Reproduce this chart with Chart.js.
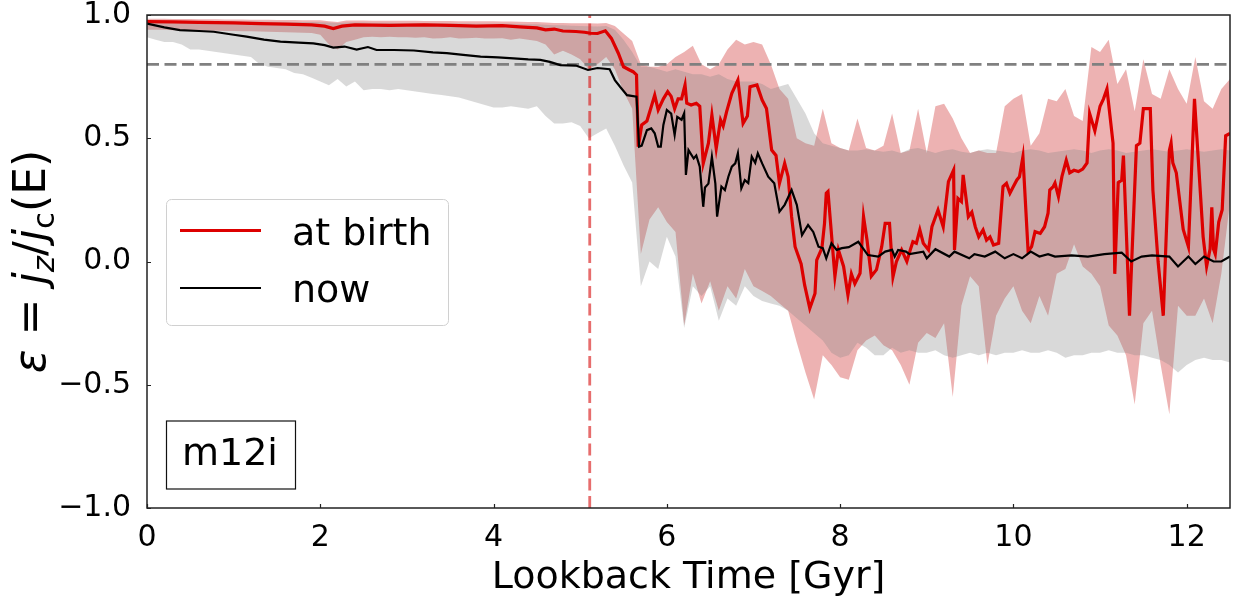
<!DOCTYPE html>
<html>
<head>
  <meta charset="UTF-8">
  <title>Circularity vs lookback time</title>
  <script src="https://cdn.jsdelivr.net/npm/chart.js@4.4.4/dist/chart.umd.min.js"></script>
  <style>
    html, body { margin: 0; padding: 0; background: #fff; }
    #wrap { width: 1234px; height: 598px; }
  </style>
</head>
<body>
<div id="wrap"><canvas id="epsChart"></canvas></div>

<script>
  // ─── axis ranges / ticks ───
  const timeRange = [0, 12.5];
  const epsRange = [-1, 1];
  const xTicks = [0, 2, 4, 6, 8, 10, 12];
  const yTicks = [-1, -0.5, 0, 0.5, 1];
  const diskCut = 0.8;        // thin-disc threshold
  const formationTime = 5.11; // disc onset

  // ─── median circularity at birth ───
  const birthTime = [
    0, 0.3, 0.6, 1.0, 1.3, 1.6, 1.9, 2.05, 2.15, 2.25, 2.4, 2.8, 3.2, 3.5, 3.8, 4.1, 4.3, 4.5, 4.6, 4.7,
    4.8, 4.95, 5.05, 5.12, 5.2, 5.29, 5.36, 5.44, 5.5, 5.57, 5.61, 5.65, 5.67, 5.71, 5.77, 5.82, 5.86, 5.9, 5.96, 6.01,
    6.05, 6.09, 6.13, 6.17, 6.21, 6.23, 6.28, 6.34, 6.38, 6.42, 6.48, 6.52, 6.57, 6.62, 6.65, 6.69, 6.75, 6.82, 6.88, 6.93,
    6.96, 7.04, 7.1, 7.15, 7.21, 7.26, 7.3, 7.36, 7.4, 7.44, 7.48, 7.55, 7.59, 7.65, 7.71, 7.73, 7.79, 7.82, 7.84, 7.86,
    7.89, 7.94, 7.98, 8.04, 8.09, 8.13, 8.17, 8.23, 8.27, 8.31, 8.36, 8.42, 8.48, 8.52, 8.57, 8.61, 8.65, 8.71, 8.77, 8.81,
    8.84, 8.88, 8.92, 8.96, 9.02, 9.06, 9.13, 9.19, 9.25, 9.31, 9.32, 9.36, 9.4, 9.42, 9.48, 9.52, 9.56, 9.6, 9.65, 9.69,
    9.73, 9.77, 9.83, 9.88, 9.92, 9.96, 10.0, 10.04, 10.07, 10.11, 10.17, 10.21, 10.25, 10.31, 10.36, 10.4, 10.42, 10.46, 10.48, 10.52,
    10.56, 10.61, 10.65, 10.7, 10.75, 10.8, 10.85, 10.88, 10.94, 11.0, 11.04, 11.08, 11.15, 11.17, 11.21, 11.25, 11.27, 11.34, 11.42, 11.46,
    11.5, 11.58, 11.61, 11.67, 11.73, 11.8, 11.82, 11.84, 11.88, 11.96, 12.02, 12.09, 12.19, 12.23, 12.27, 12.29, 12.31, 12.33, 12.37, 12.41,
    12.45, 12.5
  ];
  const birthEps = [
    0.973, 0.972, 0.97, 0.968, 0.965, 0.963, 0.96, 0.955, 0.945, 0.955, 0.96, 0.958, 0.96, 0.958, 0.955, 0.957, 0.952, 0.948, 0.94, 0.943,
    0.935, 0.933, 0.93, 0.926, 0.925, 0.936, 0.905, 0.845, 0.79, 0.777, 0.77, 0.757, 0.466, 0.554, 0.57, 0.628, 0.675, 0.615, 0.66, 0.689,
    0.67, 0.62, 0.66, 0.66, 0.716, 0.642, 0.635, 0.642, 0.63, 0.398, 0.48, 0.594, 0.459, 0.574, 0.55, 0.608, 0.682, 0.736, 0.56, 0.59,
    0.709, 0.716, 0.655, 0.621, 0.452, 0.43, 0.317, 0.398, 0.344, 0.182, 0.06, -0.01, -0.095, -0.19, -0.13, 0.006, 0.054, 0.155, 0.277, 0.284,
    0.155, -0.06, 0.047, -0.02, -0.136, -0.05, -0.09, -0.048, 0.182, 0.088, -0.06, -0.033, 0.06, 0.155, 0.155, -0.062, 0.0, 0.047, 0.0, 0.047,
    0.08, 0.074, 0.128, 0.074, 0.047, 0.141, 0.209, 0.141, 0.324, 0.371, 0.047, 0.256, 0.243, 0.351, 0.182, 0.2, 0.141, 0.1, 0.128, 0.087,
    0.1, 0.067, 0.074, 0.304, 0.317, 0.277, 0.304, 0.331, 0.344, 0.425, 0.04, 0.06, 0.121, 0.114, 0.141, 0.196, 0.29, 0.304, 0.318, 0.263,
    0.344, 0.41, 0.36, 0.37, 0.365, 0.375, 0.40, 0.60, 0.53, 0.63, 0.66, 0.70, 0.48, -0.05, 0.32, 0.33, 0.43, -0.22, 0.47, 0.48,
    0.62, 0.62, 0.29, 0.0, -0.22, 0.45, 0.48, 0.40, 0.36, 0.13, 0.06, 0.66, 0.10, -0.02, 0.05, 0.22, 0.05, 0.03, 0.16, 0.21,
    0.51, 0.52
  ];

  // ─── median circularity now ───
  const nowTime = [
    0, 0.2, 0.38, 0.6, 0.77, 1.0, 1.15, 1.35, 1.54, 1.75, 1.92, 2.05, 2.15, 2.28, 2.42, 2.55, 2.65, 2.85, 3.08, 3.3,
    3.46, 3.65, 3.85, 4.05, 4.23, 4.4, 4.54, 4.65, 4.77, 4.95, 5.09, 5.2, 5.34, 5.4, 5.46, 5.54, 5.65, 5.68, 5.71, 5.77,
    5.82, 5.86, 5.9, 5.93, 5.96, 6.0, 6.05, 6.09, 6.12, 6.17, 6.2, 6.22, 6.25, 6.31, 6.34, 6.38, 6.42, 6.44, 6.48, 6.52,
    6.56, 6.58, 6.63, 6.67, 6.71, 6.75, 6.79, 6.82, 6.86, 6.9, 6.94, 6.98, 7.02, 7.05, 7.1, 7.17, 7.24, 7.3, 7.36, 7.44,
    7.5, 7.56, 7.63, 7.69, 7.75, 7.8, 7.84, 7.9, 7.96, 8.02, 8.1, 8.21, 8.32, 8.44, 8.52, 8.6, 8.63, 8.67, 8.76, 8.8,
    8.96, 9.0, 9.1, 9.26, 9.32, 9.49, 9.55, 9.67, 9.79, 9.9, 10.0, 10.1, 10.2, 10.3, 10.4, 10.48, 10.67, 10.86, 11.05, 11.25,
    11.36, 11.48, 11.6, 11.8, 11.9, 12.02, 12.1, 12.2, 12.31, 12.4, 12.5
  ];
  const nowEps = [
    0.965, 0.95, 0.939, 0.935, 0.932, 0.92, 0.912, 0.9, 0.892, 0.888, 0.885, 0.878, 0.868, 0.872, 0.86, 0.87, 0.858, 0.858, 0.856, 0.848,
    0.845, 0.838, 0.831, 0.828, 0.824, 0.82, 0.818, 0.81, 0.797, 0.795, 0.777, 0.785, 0.78, 0.736, 0.709, 0.675, 0.669, 0.466, 0.47, 0.533,
    0.54, 0.52, 0.466, 0.466, 0.554, 0.615, 0.6, 0.513, 0.587, 0.575, 0.601, 0.351, 0.452, 0.418, 0.43, 0.385, 0.222, 0.3, 0.316, 0.425,
    0.316, 0.182, 0.304, 0.29, 0.344, 0.385, 0.398, 0.439, 0.297, 0.33, 0.318, 0.425, 0.4, 0.439, 0.398, 0.344, 0.317, 0.202, 0.23, 0.29,
    0.23, 0.107, 0.148, 0.12, 0.06, 0.054, 0.013, 0.074, 0.047, 0.054, 0.058, 0.08, 0.026, 0.02, 0.04, 0.047, 0.02, 0.047, 0.04, 0.03,
    0.04, 0.013, 0.05, 0.02, 0.04, 0.013, 0.03, 0.02, 0.04, 0.013, 0.03, 0.013, 0.04, 0.02, 0.03, 0.02, 0.025, 0.02, 0.03, 0.036,
    0.0, 0.02, 0.025, 0.02, -0.02, 0.02, -0.01, 0.02, 0.0, 0.0, 0.02
  ];

  // ─── 16–84 percentile bands, sampled every 0.1 Gyr ───
  const bandTime = [
    0.0, 0.1, 0.2, 0.3, 0.4, 0.5, 0.6, 0.7, 0.8, 0.9,
    1.0, 1.1, 1.2, 1.3, 1.4, 1.5, 1.6, 1.7, 1.8, 1.9,
    2.0, 2.1, 2.2, 2.3, 2.4, 2.5, 2.6, 2.7, 2.8, 2.9,
    3.0, 3.1, 3.2, 3.3, 3.4, 3.5, 3.6, 3.7, 3.8, 3.9,
    4.0, 4.1, 4.2, 4.3, 4.4, 4.5, 4.6, 4.7, 4.8, 4.9,
    5.0, 5.1, 5.2, 5.3, 5.4, 5.5, 5.6, 5.7, 5.8, 5.9,
    6.0, 6.1, 6.2, 6.3, 6.4, 6.5, 6.6, 6.7, 6.8, 6.9,
    7.0, 7.1, 7.2, 7.3, 7.4, 7.5, 7.6, 7.7, 7.8, 7.9,
    8.0, 8.1, 8.2, 8.3, 8.4, 8.5, 8.6, 8.7, 8.8, 8.9,
    9.0, 9.1, 9.2, 9.3, 9.4, 9.5, 9.6, 9.7, 9.8, 9.9,
    10.0, 10.1, 10.2, 10.3, 10.4, 10.5, 10.6, 10.7, 10.8, 10.9,
    11.0, 11.1, 11.2, 11.3, 11.4, 11.5, 11.6, 11.7, 11.8, 11.9,
    12.0, 12.1, 12.2, 12.3, 12.4, 12.5
  ];
  const birthHi = [
    0.985, 0.985, 0.985, 0.984, 0.984, 0.984, 0.983, 0.983, 0.983, 0.982,
    0.982, 0.982, 0.981, 0.981, 0.981, 0.980, 0.980, 0.980, 0.979, 0.979,
    0.979, 0.975, 0.972, 0.978, 0.978, 0.978, 0.977, 0.977, 0.977, 0.977,
    0.977, 0.977, 0.976, 0.976, 0.976, 0.976, 0.975, 0.975, 0.975, 0.975,
    0.975, 0.974, 0.974, 0.973, 0.972, 0.972, 0.970, 0.968, 0.968, 0.967,
    0.967, 0.967, 0.966, 0.968, 0.955, 0.925, 0.895, 0.80, 0.79, 0.79,
    0.80, 0.83, 0.85, 0.875, 0.80, 0.78, 0.80, 0.86, 0.90, 0.88,
    0.89, 0.88, 0.80, 0.70, 0.66, 0.50, 0.48, 0.47, 0.62, 0.48,
    0.46, 0.45, 0.58, 0.46, 0.45, 0.47, 0.60, 0.44, 0.45, 0.62,
    0.44, 0.63, 0.64, 0.58, 0.50, 0.44, 0.45, 0.44, 0.44, 0.63,
    0.66, 0.68, 0.47, 0.52, 0.66, 0.65, 0.70, 0.59, 0.57, 0.87,
    0.85, 0.90, 0.72, 0.78, 0.61, 0.82, 0.68, 0.66, 0.78, 0.70,
    0.64, 0.83, 0.65, 0.62, 0.70, 0.74
  ];
  const birthLo = [
    0.94, 0.94, 0.94, 0.938, 0.938, 0.937, 0.937, 0.936, 0.936, 0.935,
    0.935, 0.934, 0.934, 0.933, 0.932, 0.931, 0.93, 0.929, 0.928, 0.927,
    0.92, 0.88, 0.86, 0.89, 0.90, 0.91, 0.912, 0.91, 0.912, 0.91,
    0.91, 0.908, 0.91, 0.905, 0.906, 0.91, 0.905, 0.906, 0.908, 0.905,
    0.905, 0.906, 0.90, 0.905, 0.90, 0.895, 0.88, 0.84, 0.855, 0.84,
    0.82, 0.78, 0.80, 0.83, 0.78, 0.69, 0.62, 0.03, 0.17, 0.22,
    0.16, 0.12, -0.26, -0.05, -0.17, -0.08, -0.20, -0.10, -0.15, -0.03,
    -0.10, -0.12, -0.14, -0.17, -0.20, -0.33, -0.45, -0.56, -0.38, -0.42,
    -0.47, -0.48, -0.36, -0.32, -0.30, -0.34, -0.36, -0.42, -0.50, -0.33,
    -0.29, -0.31, -0.25, -0.55, -0.18, -0.06, -0.10, -0.42, -0.22, -0.15,
    -0.10, -0.20, -0.25, -0.14, -0.22, -0.05, -0.03, 0.07, -0.02, -0.05,
    -0.10, -0.26, -0.30, -0.38, -0.58, -0.25, -0.20, -0.42, -0.62, -0.18,
    -0.22, -0.22, -0.15, -0.25, -0.05, 0.24
  ];
  const nowHi = [
    0.978, 0.978, 0.977, 0.977, 0.977, 0.976, 0.976, 0.976, 0.975, 0.975,
    0.975, 0.974, 0.974, 0.974, 0.973, 0.973, 0.973, 0.972, 0.972, 0.972,
    0.971, 0.97, 0.968, 0.97, 0.97, 0.97, 0.969, 0.969, 0.969, 0.968,
    0.968, 0.968, 0.967, 0.967, 0.967, 0.966, 0.966, 0.966, 0.965, 0.965,
    0.965, 0.964, 0.964, 0.963, 0.962, 0.962, 0.96, 0.958, 0.958, 0.956,
    0.955, 0.954, 0.953, 0.955, 0.94, 0.90, 0.85, 0.79, 0.79, 0.78,
    0.77, 0.78, 0.77, 0.76, 0.76, 0.75, 0.76, 0.74, 0.73, 0.73,
    0.73, 0.72, 0.70, 0.71, 0.72, 0.66, 0.60, 0.52, 0.48, 0.47,
    0.46, 0.45, 0.45, 0.455, 0.45, 0.445, 0.45, 0.44, 0.455, 0.46,
    0.45, 0.44, 0.45, 0.455, 0.445, 0.44, 0.45, 0.455, 0.45, 0.445,
    0.44, 0.45, 0.455, 0.45, 0.44, 0.445, 0.45, 0.455, 0.45, 0.44,
    0.45, 0.455, 0.45, 0.44, 0.445, 0.45, 0.455, 0.45, 0.445, 0.45,
    0.455, 0.45, 0.445, 0.45, 0.455, 0.45
  ];
  const nowLo = [
    0.91, 0.90, 0.89, 0.89, 0.88, 0.86, 0.86, 0.855, 0.85, 0.845,
    0.84, 0.835, 0.83, 0.80, 0.79, 0.785, 0.78, 0.765, 0.76, 0.745,
    0.73, 0.715, 0.74, 0.71, 0.73, 0.695, 0.70, 0.70, 0.695, 0.70,
    0.695, 0.69, 0.685, 0.68, 0.675, 0.67, 0.665, 0.655, 0.645, 0.635,
    0.625, 0.625, 0.63, 0.625, 0.62, 0.63, 0.59, 0.56, 0.56, 0.565,
    0.55, 0.50, 0.52, 0.54, 0.47, 0.39, 0.32, -0.10, 0.0, -0.03,
    0.10, 0.02, -0.27, -0.10, -0.14, -0.10, -0.24, -0.15, -0.18, -0.10,
    -0.14, -0.16, -0.17, -0.18, -0.20, -0.23, -0.26, -0.29, -0.32, -0.37,
    -0.39, -0.38, -0.33, -0.35, -0.38, -0.38, -0.35, -0.37, -0.36, -0.37,
    -0.37, -0.36, -0.38, -0.39, -0.38, -0.37, -0.38, -0.37, -0.38, -0.37,
    -0.37, -0.36, -0.37, -0.37, -0.36, -0.37, -0.39, -0.38, -0.38, -0.37,
    -0.37, -0.36, -0.37, -0.37, -0.38, -0.38, -0.39, -0.40, -0.42, -0.45,
    -0.42, -0.40, -0.39, -0.40, -0.40, -0.41
  ];

  const FONT = "'DejaVu Sans', sans-serif";
  const RED = '#dd0000';

  const pts = (xs, ys) => xs.map((t, i) => ({ x: t, y: ys[i] }));

  // frame, inward ticks, legend, run label and axis titles
  const decor = {
    id: 'decor',
    afterDatasetsDraw(chart) {
      const { ctx, chartArea: a, scales: { x, y } } = chart;
      ctx.save();
      ctx.strokeStyle = '#222';
      ctx.lineWidth = 1.2;
      ctx.beginPath();
      xTicks.forEach(v => {
        const px = Math.round(x.getPixelForValue(v)) + 0.5;
        ctx.moveTo(px, a.bottom); ctx.lineTo(px, a.bottom - 4);
      });
      yTicks.forEach(v => {
        const py = Math.round(y.getPixelForValue(v)) + 0.5;
        ctx.moveTo(a.left, py); ctx.lineTo(a.left + 4, py);
      });
      ctx.stroke();
      ctx.lineWidth = 1.5;
      ctx.strokeRect(a.left, a.top, a.right - a.left, a.bottom - a.top);
      ctx.restore();
    },
    afterDraw(chart) {
      const { ctx, chartArea: a } = chart;
      ctx.save();

      // legend
      ctx.beginPath();
      ctx.roundRect(166.5, 199.5, 282, 126, 5);
      ctx.fillStyle = 'rgba(255,255,255,0.8)';
      ctx.fill();
      ctx.strokeStyle = '#d0d0d0';
      ctx.lineWidth = 1;
      ctx.stroke();
      ctx.lineCap = 'butt';
      ctx.strokeStyle = RED; ctx.lineWidth = 3.2;
      ctx.beginPath(); ctx.moveTo(180, 230.5); ctx.lineTo(261, 230.5); ctx.stroke();
      ctx.strokeStyle = '#000'; ctx.lineWidth = 2.2;
      ctx.beginPath(); ctx.moveTo(180, 288); ctx.lineTo(261, 288); ctx.stroke();
      ctx.fillStyle = '#000';
      ctx.font = '38px ' + FONT;
      ctx.textAlign = 'left';
      ctx.textBaseline = 'alphabetic';
      ctx.fillText('at birth', 292, 245);
      ctx.fillText('now', 292, 302);

      // run label
      ctx.strokeStyle = '#111';
      ctx.lineWidth = 1.2;
      ctx.strokeRect(166.5, 421, 129, 68);
      ctx.fillText('m12i', 182, 465);

      // x title
      ctx.textAlign = 'center';
      ctx.fillText('Lookback Time [Gyr]', (a.left + a.right) / 2, 588);

      // y title: ε = j_z / j_c(E)
      const big = 44, small = 31, drop = 9;
      const parts = [
        { t: '\u03b5', f: 'italic ' + big + 'px ' + FONT, dy: 0 },
        { t: ' = ', f: big + 'px ' + FONT, dy: 0 },
        { t: 'j', f: 'italic ' + big + 'px ' + FONT, dy: 0 },
        { t: 'z', f: 'italic ' + small + 'px ' + FONT, dy: drop },
        { t: '/', f: big + 'px ' + FONT, dy: 0 },
        { t: 'j', f: 'italic ' + big + 'px ' + FONT, dy: 0 },
        { t: 'c', f: small + 'px ' + FONT, dy: drop },
        { t: '(E)', f: big + 'px ' + FONT, dy: 0 }
      ];
      let total = 0;
      parts.forEach(p => { ctx.font = p.f; p.w = ctx.measureText(p.t).width; total += p.w; });
      ctx.translate(45, (a.top + a.bottom) / 2);
      ctx.rotate(-Math.PI / 2);
      ctx.textAlign = 'left';
      let cx = -total / 2;
      parts.forEach(p => {
        ctx.font = p.f;
        ctx.fillText(p.t, cx, p.dy);
        cx += p.w;
      });
      ctx.restore();
    }
  };

  new Chart(document.getElementById('epsChart'), {
    type: 'line',
    data: {
      datasets: [
        { data: pts(bandTime, birthLo), borderWidth: 0, pointRadius: 0, fill: false, order: 7 },
        { data: pts(bandTime, birthHi), borderWidth: 0, pointRadius: 0, fill: '-1',
          backgroundColor: 'rgba(195,0,0,0.3)', order: 7 },
        { data: pts(bandTime, nowLo), borderWidth: 0, pointRadius: 0, fill: false, order: 6 },
        { data: pts(bandTime, nowHi), borderWidth: 0, pointRadius: 0, fill: '-1',
          backgroundColor: 'rgba(128,128,128,0.3)', order: 6 },
        { data: [{ x: timeRange[0], y: diskCut }, { x: timeRange[1], y: diskCut }],
          borderColor: '#808080', borderWidth: 2.8, borderDash: [12, 5.5], pointRadius: 0, fill: false, order: 5 },
        { data: [{ x: formationTime, y: epsRange[0] }, { x: formationTime, y: epsRange[1] }],
          borderColor: 'rgba(218,30,30,0.65)', borderWidth: 2.8, borderDash: [12, 5.5], pointRadius: 0, fill: false, order: 5 },
        { label: 'at birth', data: pts(birthTime, birthEps), borderColor: RED, borderWidth: 3.2,
          pointRadius: 0, fill: false, order: 4 },
        { label: 'now', data: pts(nowTime, nowEps), borderColor: '#000', borderWidth: 2.2,
          pointRadius: 0, fill: false, order: 3 }
      ]
    },
    options: {
      responsive: true,
      maintainAspectRatio: false,
      animation: false,
      events: [],
      layout: { padding: { top: 15, right: 4, left: 0, bottom: 0 } },
      elements: { line: { tension: 0 } },
      plugins: { legend: { display: false }, tooltip: { enabled: false } },
      scales: {
        x: {
          type: 'linear',
          min: timeRange[0],
          max: timeRange[1],
          grid: { display: false },
          border: { display: false },
          afterBuildTicks: s => { s.ticks = xTicks.map(v => ({ value: v })); },
          afterFit: s => { s.height = 90; s.paddingLeft = 0; s.paddingRight = 0; },
          ticks: {
            padding: 4,
            color: '#000',
            font: { family: FONT, size: 30 },
            callback: v => String(v)
          }
        },
        y: {
          type: 'linear',
          min: epsRange[0],
          max: epsRange[1],
          grid: { display: false },
          border: { display: false },
          afterBuildTicks: s => { s.ticks = yTicks.map(v => ({ value: v })); },
          afterFit: s => { s.width = 147; s.paddingTop = 0; s.paddingBottom = 0; },
          ticks: {
            padding: 8,
            color: '#000',
            font: { family: FONT, size: 30 },
            callback: v => (v < 0 ? '\u2212' : '') + Math.abs(v).toFixed(1)
          }
        }
      }
    },
    plugins: [decor]
  });
</script>
</body>
</html>
